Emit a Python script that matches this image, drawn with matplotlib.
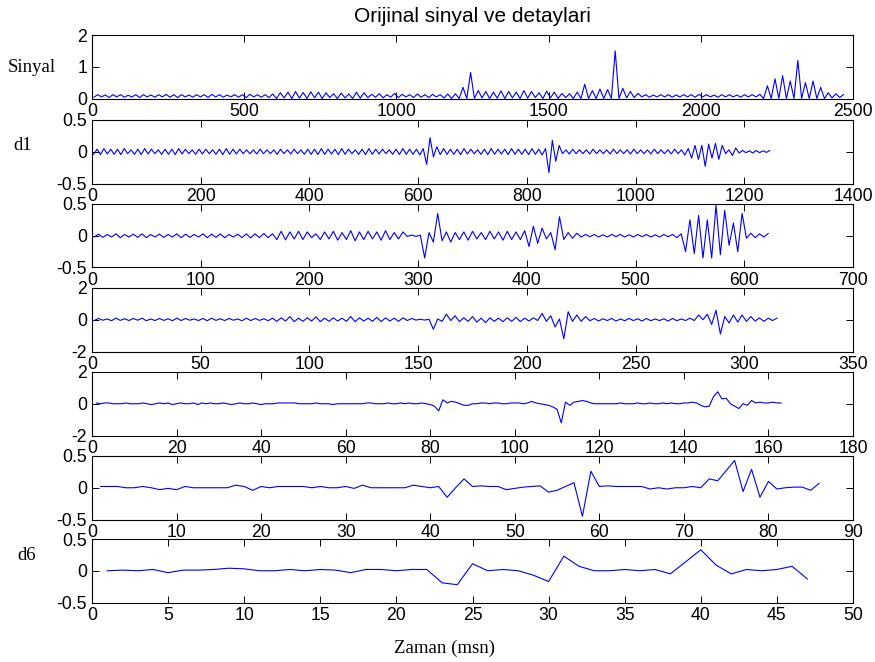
import numpy as np
import matplotlib
matplotlib.use('Agg')
import matplotlib.pyplot as plt

# original signal, min/max envelope per bin of 25 samples
sinyal_bin = 25
sinyal_hi = [0.12, 0.11, 0.12, 0.12, 0.10, 0.12, 0.12, 0.11, 0.12, 0.13, 0.12, 0.12,
             0.11, 0.12, 0.12, 0.13, 0.12, 0.11, 0.12, 0.12, 0.13, 0.12, 0.12, 0.14,
             0.18, 0.20, 0.22, 0.19, 0.21, 0.20, 0.18, 0.15, 0.17, 0.14, 0.20, 0.18,
             0.13, 0.15, 0.12, 0.16, 0.13, 0.12, 0.14, 0.12, 0.13, 0.12, 0.14, 0.15,
             0.35, 0.82,
             0.25, 0.22, 0.20, 0.24, 0.22, 0.20, 0.25, 0.22, 0.18, 0.23, 0.20, 0.16, 0.15, 0.20,
             0.45, 0.25, 0.30, 0.28, 1.50, 0.32, 0.22, 0.16,
             0.12, 0.11, 0.12, 0.12, 0.11, 0.12, 0.12, 0.13, 0.12, 0.11, 0.12, 0.12,
             0.11, 0.12, 0.12, 0.13,
             0.40, 0.62, 0.72, 0.55, 1.20, 0.50, 0.55, 0.35,
             0.18, 0.15, 0.12]
sinyal_lo = [0.04, 0.05, 0.03, 0.05, 0.04, 0.05, 0.03, 0.05, 0.04, 0.05, 0.04, 0.03,
             0.05, 0.04, 0.05, 0.03, 0.05, 0.04, 0.05, 0.04, 0.03, 0.05, 0.04, 0.03,
             0.00, 0.02, 0.00, 0.01, 0.00, 0.02, 0.00, 0.03, 0.00, 0.02, 0.00, 0.01,
             0.03, 0.04, 0.02, 0.04, 0.03, 0.05, 0.03, 0.04, 0.03, 0.05, 0.02, 0.00,
             0.00, 0.00,
             0.00, 0.02, 0.00, 0.01, 0.00, 0.02, 0.00, 0.01, 0.03, 0.00, 0.02, 0.00, 0.03, 0.00,
             0.00, 0.00, 0.00, 0.00, 0.00, 0.00, 0.02, 0.03,
             0.05, 0.04, 0.05, 0.05, 0.04, 0.05, 0.05, 0.04, 0.05, 0.05, 0.04, 0.05,
             0.05, 0.04, 0.05, 0.05,
             0.00, 0.00, 0.00, 0.00, 0.00, 0.00, 0.00, 0.00,
             0.00, 0.02, 0.03]

# d1, envelope per bin of 12.5 samples
d1_bin = 12.5
d1_hi = [0.04, 0.05, 0.04, 0.04, 0.05, 0.03, 0.04, 0.05, 0.04, 0.03, 0.04, 0.04,
         0.05, 0.04, 0.03, 0.04, 0.04, 0.03, 0.04, 0.05, 0.04, 0.04, 0.03, 0.03,
         0.04, 0.03, 0.03, 0.04, 0.03, 0.04, 0.03, 0.04, 0.04, 0.05, 0.04, 0.04,
         0.05, 0.04, 0.03, 0.04, 0.05, 0.04, 0.04, 0.03, 0.04, 0.05, 0.04, 0.04,
         0.05, 0.22, 0.08,
         0.05, 0.04, 0.04, 0.05, 0.04, 0.03, 0.04, 0.05, 0.04, 0.04, 0.05, 0.04,
         0.04, 0.05, 0.04, 0.05,
         0.18, 0.10,
         0.03, 0.04, 0.03, 0.03, 0.04, 0.03, 0.03, 0.04, 0.03, 0.03, 0.04, 0.03,
         0.03, 0.04, 0.03, 0.03, 0.04, 0.03, 0.05,
         0.10, 0.10, 0.12, 0.13, 0.10, 0.03, 0.06,
         0.02, 0.015, 0.02, 0.015, 0.02]
d1_lo = [-0.04, -0.045, -0.035, -0.04, -0.045, -0.03, -0.04, -0.045, -0.035, -0.03, -0.04, -0.04,
         -0.045, -0.035, -0.03, -0.04, -0.035, -0.03, -0.04, -0.045, -0.04, -0.035, -0.03, -0.03,
         -0.035, -0.03, -0.03, -0.04, -0.03, -0.035, -0.03, -0.04, -0.04, -0.045, -0.04, -0.035,
         -0.045, -0.04, -0.03, -0.04, -0.045, -0.04, -0.035, -0.03, -0.04, -0.045, -0.04, -0.04,
         -0.05, -0.20, -0.08,
         -0.045, -0.04, -0.04, -0.045, -0.035, -0.03, -0.04, -0.045, -0.04, -0.035, -0.045, -0.04,
         -0.04, -0.045, -0.04, -0.05,
         -0.33, -0.15,
         -0.03, -0.035, -0.03, -0.03, -0.035, -0.03, -0.03, -0.035, -0.03, -0.03, -0.035, -0.03,
         -0.03, -0.035, -0.03, -0.03, -0.035, -0.03, -0.05,
         -0.10, -0.12, -0.23, -0.10, -0.12, -0.03, -0.06,
         -0.02, -0.015, -0.02, -0.015, -0.01]

# d2, envelope per bin of 8 samples
d2_bin = 8
d2_hi = [0.025, 0.02, 0.03, 0.02, 0.025, 0.03, 0.02, 0.025, 0.02, 0.03, 0.025, 0.02,
         0.03, 0.025, 0.03, 0.02, 0.025, 0.03, 0.03, 0.035, 0.03,
         0.07, 0.06, 0.07, 0.06, 0.03,
         0.06, 0.07, 0.05, 0.08, 0.06, 0.07, 0.06, 0.08, 0.05, 0.06,
         0.01, 0.01, 0.05, 0.35,
         0.06, 0.05, 0.06, 0.07, 0.05, 0.07, 0.06, 0.07, 0.06, 0.08,
         0.15, 0.12, 0.05, 0.30, 0.05, 0.04,
         0.02, 0.02, 0.015, 0.02, 0.02, 0.015, 0.02, 0.02, 0.015, 0.02, 0.02,
         0.03, 0.25, 0.32, 0.25, 0.48, 0.40, 0.20, 0.35,
         0.04, 0.03, 0.035]
d2_lo = [-0.02, -0.025, -0.02, -0.03, -0.02, -0.025, -0.03, -0.02, -0.025, -0.02, -0.03, -0.025,
         -0.02, -0.03, -0.025, -0.03, -0.02, -0.03, -0.035, -0.03, -0.03,
         -0.06, -0.065, -0.05, -0.06, -0.03,
         -0.06, -0.05, -0.07, -0.06, -0.08, -0.06, -0.05, -0.07, -0.06, -0.05,
         -0.01, -0.01, -0.35, -0.10,
         -0.08, -0.10, -0.06, -0.07, -0.05, -0.06, -0.05, -0.07, -0.06, -0.06,
         -0.17, -0.12, -0.05, -0.22, -0.06, -0.04,
         -0.02, -0.015, -0.02, -0.02, -0.015, -0.02, -0.02, -0.015, -0.02, -0.02, -0.015,
         -0.03, -0.25, -0.28, -0.35, -0.35, -0.30, -0.15, -0.25,
         -0.04, -0.03, -0.02]

# d3, envelope per bin of 4 samples
d3_bin = 4
d3_hi = [0.08, 0.05, 0.10, 0.06, 0.08, 0.10, 0.05, 0.08, 0.06, 0.10, 0.08, 0.05,
         0.08, 0.10, 0.06, 0.08, 0.05, 0.10, 0.08, 0.06, 0.10,
         0.12, 0.20, 0.10, 0.12, 0.18, 0.10, 0.12, 0.10, 0.20, 0.12, 0.10, 0.15,
         0.12, 0.10, 0.12, 0.08,
         0.03, 0.03, 0.05, 0.35, 0.25,
         0.12, 0.20, 0.10, 0.12, 0.10, 0.12, 0.15, 0.10, 0.12,
         0.40, 0.25, 0.05, 0.50, 0.30, 0.20,
         0.08, 0.06, 0.08, 0.05, 0.08, 0.06, 0.08, 0.05, 0.06, 0.08, 0.05, 0.10,
         0.30, 0.35, 0.60, 0.20, 0.30, 0.30, 0.20,
         0.12, 0.10, 0.10]
d3_lo = [-0.05, -0.03, -0.06, -0.04, -0.05, -0.03, -0.06, -0.05, -0.04, -0.06, -0.05, -0.03,
         -0.05, -0.06, -0.04, -0.05, -0.03, -0.06, -0.05, -0.04, -0.06,
         -0.10, -0.08, -0.12, -0.10, -0.08, -0.12, -0.10, -0.08, -0.10, -0.12, -0.08, -0.10,
         -0.12, -0.08, -0.10, -0.05,
         -0.02, -0.02, -0.60, -0.10, -0.05,
         -0.12, -0.10, -0.15, -0.18, -0.10, -0.12, -0.10, -0.12, -0.08,
         -0.05, -0.10, -0.45, -1.20, -0.10, -0.10,
         -0.06, -0.08, -0.05, -0.08, -0.06, -0.05, -0.08, -0.06, -0.05, -0.08, -0.06, -0.05,
         -0.05, 0.00, -0.30, -0.90, -0.20, -0.15, -0.10,
         -0.08, -0.10, -0.05]

# d4, every sample (1..163)
d4 = [0.05, 0.0, 0.05, 0.05, 0.0, 0.0, 0.0, 0.05, 0.0, 0.0,
      0.0, 0.05, 0.0, -0.05, 0.0, 0.05, 0.0, 0.05, -0.05, 0.0,
      0.05, 0.0, 0.0, 0.05, -0.05, 0.05, 0.0, 0.05, 0.0, 0.0,
      0.05, 0.0, -0.05, 0.0, 0.05, 0.0, 0.0, 0.05, 0.0, -0.05,
      0.0, 0.0, 0.0, 0.05, 0.05, 0.05, 0.05, 0.05, 0.0, 0.0,
      0.0, 0.0, 0.05, 0.0, 0.0, 0.0, -0.05, 0.0, 0.0, 0.0,
      0.0, 0.0, 0.0, 0.0, 0.05, 0.05, 0.0, 0.0, 0.0, 0.05,
      0.0, 0.0, 0.05, 0.0, 0.05, 0.0, 0.0, 0.05, 0.0, -0.05,
      -0.15, -0.45, 0.25, 0.05, 0.15, 0.1, 0.0, -0.1, -0.1, 0.0,
      0.0, 0.05, 0.05, 0.0, 0.05, 0.05, 0.0, 0.0, 0.05, 0.05,
      0.05, 0.0, 0.05, 0.15, 0.05, 0.0, -0.05, -0.1, -0.2, -0.35,
      -1.2, 0.1, -0.1, 0.1, 0.15, 0.2, 0.15, 0.05, 0.0, 0.0,
      0.0, 0.0, 0.0, 0.0, 0.05, 0.0, 0.0, 0.0, 0.05, 0.0,
      0.0, 0.05, 0.0, 0.0, 0.05, 0.0, 0.05, 0.0, 0.0, 0.05,
      0.05, 0.1, 0.05, -0.1, -0.2, -0.15, 0.45, 0.75, 0.3, 0.35,
      0.0, -0.15, -0.3, 0.0, -0.1, 0.2, 0.05, 0.1, 0.05, 0.05,
      0.1, 0.05, 0.05]

# d5, every sample (1..86)
d5 = [0.02, 0.02, 0.02, 0.00, 0.00, 0.02, 0.00, -0.03, -0.01, -0.03,
      0.02, 0.00, 0.00, 0.00, 0.00, 0.00, 0.04, 0.02, -0.04, 0.02,
      0.00, 0.02, 0.02, 0.02, 0.02, 0.00, 0.02, 0.00, 0.00, 0.02,
      -0.01, 0.04, 0.00, 0.00, 0.00, 0.00, 0.00, 0.04, 0.02, 0.00,
      0.02, -0.15, 0.00, 0.14, 0.02, 0.03, 0.02, 0.02, -0.03, -0.01,
      0.01, 0.02, 0.03, -0.07, -0.04, 0.02, 0.08, -0.45, 0.26, 0.02,
      0.03, 0.02, 0.02, 0.02, 0.02, -0.02, 0.00, -0.02, 0.00, 0.00,
      0.02, 0.00, 0.14, 0.11, 0.27, 0.43, -0.06, 0.29, -0.15, 0.10,
      -0.02, 0.00, 0.01, 0.01, -0.04, 0.07]

# d6, every sample (1..47)
d6 = [0.00, 0.01, 0.00, 0.02, -0.03, 0.01, 0.01, 0.02, 0.04, 0.03,
      0.00, 0.00, 0.02, 0.00, 0.02, 0.01, -0.03, 0.02, 0.02, 0.00,
      0.02, 0.02, -0.19, -0.22, 0.11, 0.00, 0.02, 0.00, -0.07, -0.17,
      0.23, 0.07, 0.00, 0.00, 0.02, 0.00, 0.02, -0.05, 0.14, 0.33,
      0.09, -0.05, 0.02, 0.00, 0.02, 0.07, -0.13]

xlims = [2500, 1400, 700, 350, 180, 90, 50]
xsteps = [500, 200, 100, 50, 20, 10, 5]
ylims = [(0, 2), (-0.5, 0.5), (-0.5, 0.5), (-2, 2), (-2, 2), (-0.5, 0.5), (-0.5, 0.5)]
yticks = [[0, 1, 2], [-0.5, 0, 0.5], [-0.5, 0, 0.5], [-2, 0, 2], [-2, 0, 2],
          [-0.5, 0, 0.5], [-0.5, 0, 0.5]]


def envelope(lo, hi, w):
    start = np.arange(len(lo)) * w
    x = np.column_stack([start + 0.25 * w, start + 0.75 * w]).ravel()
    y = np.column_stack([lo, hi]).ravel()
    return x, y


series = [envelope(sinyal_lo, sinyal_hi, sinyal_bin),
          envelope(d1_lo, d1_hi, d1_bin),
          envelope(d2_lo, d2_hi, d2_bin),
          envelope(d3_lo, d3_hi, d3_bin),
          (np.arange(1, len(d4) + 1), d4),
          (np.arange(1, len(d5) + 1), d5),
          (np.arange(1, len(d6) + 1), d6)]

W, H = 875, 662
fig = plt.figure(figsize=(W / 100, H / 100), dpi=100)
sans = ['Liberation Sans', 'DejaVu Sans']
serif = ['Liberation Serif', 'DejaVu Serif']

tops = [35, 120, 204, 288, 372, 456, 539]
ph = 63.5
for k in range(7):
    ax = fig.add_axes([92 / W, 1 - (tops[k] + ph) / H, (853 - 92) / W, ph / H])
    x, y = series[k]
    ax.plot(x, y, color=(0, 0, 1), lw=0.8)
    ax.set_xlim(0, xlims[k])
    ax.set_ylim(*ylims[k])
    xt = np.arange(0, xlims[k] + 1, xsteps[k])
    ax.set_xticks(xt)
    ax.set_xticklabels(['%g' % t for t in xt], family=sans, fontsize=12.7)
    ax.set_yticks(yticks[k])
    ax.set_yticklabels(['%g' % t for t in yticks[k]], family=sans, fontsize=12.7)
    ax.tick_params(direction='in', top=True, right=True, length=4.7, width=0.7,
                   pad=3.5)
    for s in ax.spines.values():
        s.set_linewidth(0.8)

fig.text(472 / W, 1 - 17 / H, 'Orijinal sinyal ve detaylari', family=sans,
         fontsize=15, ha='center', va='center')
fig.text(32 / W, 1 - 68 / H, 'Sinyal', family=serif, fontsize=13.5,
         ha='center', va='center')
fig.text(23 / W, 1 - 145 / H, 'd1', family=serif, fontsize=13.5,
         ha='center', va='center')
fig.text(27 / W, 1 - 555 / H, 'd6', family=serif, fontsize=13.5,
         ha='center', va='center')
fig.text(444 / W, 1 - 648 / H, 'Zaman (msn)', family=serif, fontsize=13.5,
         ha='center', va='center')

fig.savefig('out.png', dpi=100)
